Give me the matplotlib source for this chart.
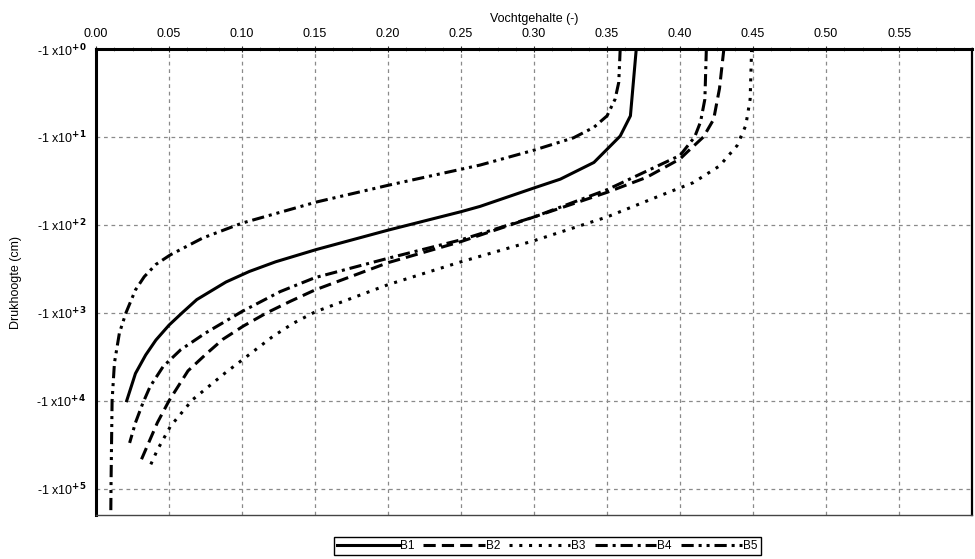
import numpy as np
import matplotlib
matplotlib.use("Agg")
import matplotlib.pyplot as plt
from matplotlib.ticker import MultipleLocator, FixedLocator, NullLocator

plt.rcParams["font.family"] = ["Liberation Sans", "DejaVu Sans"]

# pF = log10 of pressure head (cm), theta = moisture content (-)
b1_pf = [0, 0.38, 0.76, 0.99, 1.14, 1.29, 1.48, 1.58, 1.79, 1.85, 2.06, 2.28, 2.42, 2.53, 2.65, 2.77, 2.85, 3.0, 3.14, 3.31, 3.48, 3.69, 4.0]
b1_theta = [0.370, 0.368, 0.366, 0.359, 0.350, 0.341, 0.318, 0.300, 0.263, 0.250, 0.200, 0.151, 0.123, 0.105, 0.089, 0.077, 0.069, 0.059, 0.050, 0.041, 0.034, 0.027, 0.021]

b2_pf = [0, 0.45, 0.80, 1.0, 1.17, 1.25, 1.46, 1.63, 1.91, 2.19, 2.43, 2.74, 2.87, 3.0, 3.15, 3.30, 3.46, 3.66, 4.0, 4.25, 4.48, 4.71]
b2_theta = [0.430, 0.427, 0.423, 0.416, 0.405, 0.400, 0.377, 0.350, 0.300, 0.250, 0.200, 0.150, 0.133, 0.117, 0.101, 0.087, 0.076, 0.063, 0.050, 0.042, 0.036, 0.030]

b3_pf = [0, 0.57, 0.87, 1.10, 1.33, 1.52, 1.67, 1.91, 2.18, 2.42, 2.68, 2.99, 3.12, 3.27, 3.50, 3.69, 3.99, 4.29, 4.56, 4.78]
b3_theta = [0.449, 0.448, 0.445, 0.439, 0.427, 0.409, 0.386, 0.350, 0.300, 0.250, 0.200, 0.150, 0.135, 0.121, 0.103, 0.088, 0.066, 0.051, 0.042, 0.036]

b4_pf = [0, 0.57, 0.83, 1.0, 1.21, 1.60, 1.91, 2.17, 2.38, 2.60, 2.76, 2.985, 3.23, 3.42, 3.61, 3.84, 4.03, 4.25, 4.48]
b4_theta = [0.418, 0.417, 0.414, 0.410, 0.400, 0.350, 0.300, 0.250, 0.200, 0.150, 0.126, 0.100, 0.075, 0.058, 0.046, 0.037, 0.032, 0.027, 0.023]

b5_pf = [0, 0.38, 0.57, 0.76, 0.89, 1.01, 1.15, 1.32, 1.55, 1.74, 1.98, 2.15, 2.34, 2.45, 2.59, 2.74, 3.0, 3.23, 3.57, 4.0, 4.9, 5.5]
b5_theta = [0.359, 0.358, 0.3555, 0.350, 0.341, 0.327, 0.300, 0.263, 0.200, 0.151, 0.100, 0.073, 0.051, 0.041, 0.033, 0.027, 0.0205, 0.016, 0.0126, 0.011, 0.0103, 0.010]

labels = ["B1", "B2", "B3", "B4", "B5"]
x_ticks = [0.00, 0.05, 0.10, 0.15, 0.20, 0.25, 0.30, 0.35, 0.40, 0.45, 0.50, 0.55]
y_decades = [0, 1, 2, 3, 4, 5]

series = [(b1_pf, b1_theta), (b2_pf, b2_theta), (b3_pf, b3_theta), (b4_pf, b4_theta), (b5_pf, b5_theta)]
dashes = [None, (4, 2), (1, 2.2), (4, 1.6, 1, 1.6), (4, 1.6, 1, 1.6, 1, 1.6)]

fig = plt.figure(figsize=(9.75, 5.59), dpi=100)
ax = fig.add_axes([0.0985, 0.0787, 0.8985, 0.8336])

handles = []
for (pf, th), lab, d in zip(series, labels, dashes):
    h = 10 ** np.array(pf)
    line, = ax.plot(th, h, color="black", lw=2.2, label=lab, solid_joinstyle="round")
    if d is not None:
        line.set_dashes(d)
        line.set_dash_capstyle("butt")
    handles.append(line)

ax.set_yscale("log")
ax.set_ylim(10 ** 5.3, 1)
ax.set_xlim(0, 0.6)

ax.xaxis.tick_top()
ax.xaxis.set_label_position("top")
ax.set_xticks(x_ticks)
ax.set_xticklabels(["%.2f" % v for v in x_ticks], fontsize=9)
ax.xaxis.set_minor_locator(MultipleLocator(0.0125))
ax.tick_params(axis="x", which="major", direction="inout", length=5, pad=4, color="#333333")
ax.tick_params(axis="x", which="minor", direction="inout", length=3, color="#888888")
ax.set_xlabel("Vochtgehalte (-)", fontsize=9, labelpad=4)

ax.yaxis.set_major_locator(FixedLocator([10 ** d for d in y_decades]))
ax.yaxis.set_minor_locator(NullLocator())
ax.set_yticklabels([r"-1 x10$^{\mathbf{+%d}}$" % d for d in y_decades], fontsize=9)
ax.tick_params(axis="y", which="major", length=0, pad=7)
ax.set_ylabel("Drukhoogte (cm)", fontsize=9, labelpad=10)

ax.grid(True, which="major", linestyle=(0, (3, 3)), color="#8a8a8a", lw=0.9)

for side in ["top", "left"]:
    ax.spines[side].set_linewidth(2.2)
    ax.spines[side].set_color("black")
ax.spines["right"].set_linewidth(1.6)
ax.spines["right"].set_color("black")
ax.spines["bottom"].set_linewidth(1.0)
ax.spines["bottom"].set_color("#444444")

leg = fig.legend(handles=handles, labels=labels, loc="center", bbox_to_anchor=(0.5615, 0.023),
                 ncol=5, fontsize=8.5, handlelength=5.2, handletextpad=0.1, columnspacing=0.75,
                 fancybox=False, edgecolor="black", framealpha=1, borderpad=0.25)
leg.get_frame().set_linewidth(1.0)

fig.savefig("out.png", dpi=100)
